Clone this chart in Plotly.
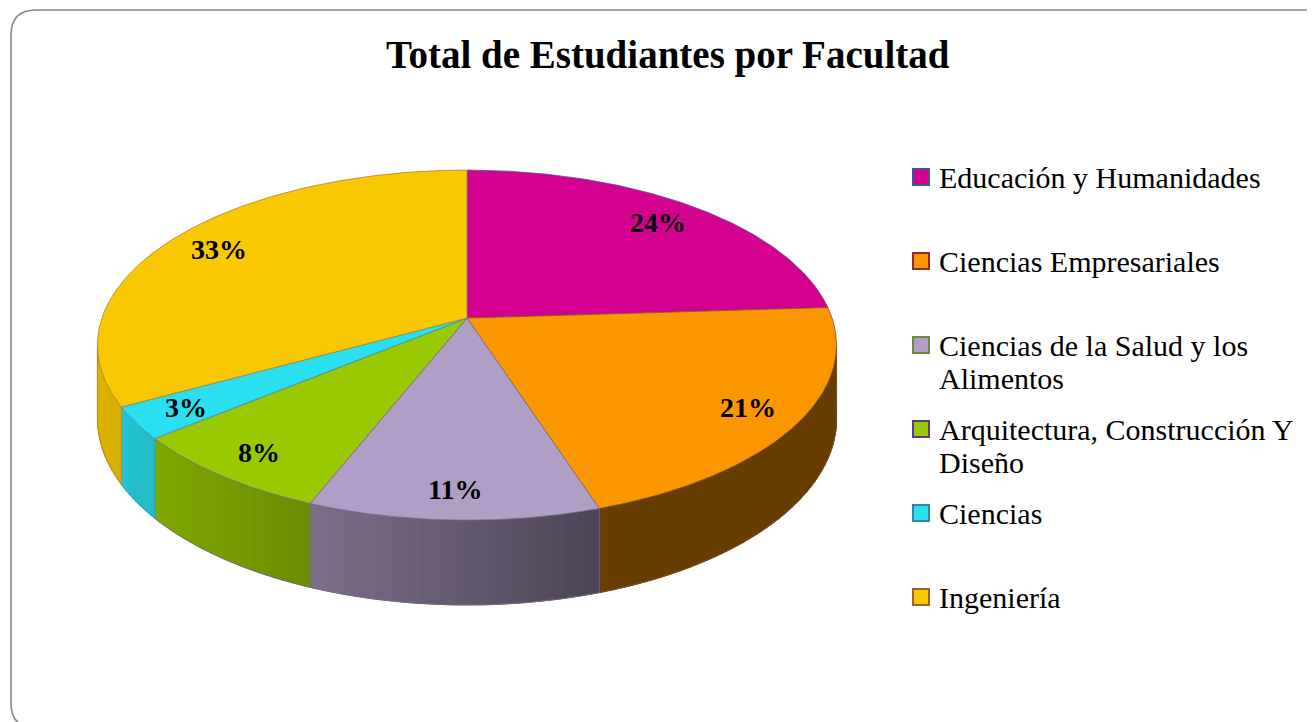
import textwrap
import numpy as np
import plotly.graph_objects as go

# ---------------- data ----------------
categories = [
    "Educación y Humanidades",
    "Ciencias Empresariales",
    "Ciencias de la Salud y los Alimentos",
    "Arquitectura, Construcción Y Diseño",
    "Ciencias",
    "Ingeniería",
]
values = [24, 21, 11, 8, 3, 33]
title_text = "Total de Estudiantes por Facultad"

# ---------------- style ----------------
top_colors = ["#D4008F", "#F99600", "#B19EC6", "#99C900", "#29DFF0", "#F9C800"]
edge_colors = ["#4F5B93", "#8E4B2A", "#76698A", "#6E6A86", "#3A98A8", "#A8823A"]
legend_borders = ["#3C5A8C", "#8B2E2E", "#6E8B3D", "#5E3C82", "#2E8B9A", "#A0602E"]
FONT = "Liberation Serif"

W, H = 1315, 722
PAGE_OFF = 8  # page body margin: axis ranges chosen so data units == page pixels
# perspective projection of the pie disc (pixel space)
CX, YH, A_TOP, A_BOT, BX, DD = 467.0, -789.0, 7174.0, 7639.0, 2366.0, 6.48
LABEL_T = 0.85  # label position: fraction from apex to projected rim


def proj(phi, r, a):
    x = r * np.sin(phi)
    z = r * np.cos(phi)
    return CX + BX * x / (DD + z), YH + a / (DD + z)


def hex_rgb(h):
    h = h.lstrip("#")
    return tuple(int(h[i:i + 2], 16) for i in (0, 2, 4))


def shade(hexcol, f):
    r, g, b = hex_rgb(hexcol)
    return "rgb(%d,%d,%d)" % (round(r * f), round(g * f), round(b * f))


def side_factor(phi_deg):
    if phi_deg < 160:
        return 0.41
    t = min(1.0, (phi_deg - 160) / 101.0)
    return 0.41 + 0.48 * np.sin(np.pi / 2 * t)


total = float(sum(values))
fracs = [v / total for v in values]
starts = np.cumsum([0] + fracs[:-1]) * 2 * np.pi
ends = np.cumsum(fracs) * 2 * np.pi

fig = go.Figure()

# visible side range
phi1 = np.arccos(-1.0 / DD)
phi2 = 2 * np.pi - phi1

# ---- side walls ----
for i in range(len(values)):
    s = max(starts[i], phi1)
    e = min(ends[i], phi2)
    if e <= s:
        continue
    n = max(2, int(np.degrees(e - s) / 1.0) + 1)
    grid = np.linspace(s, e, n)
    for k in range(n - 1):
        a0, a1 = grid[k], grid[k + 1]
        xs0, yt0 = proj(a0, 1, A_TOP)
        xs1, yt1 = proj(a1, 1, A_TOP)
        _, yb0 = proj(a0, 1, A_BOT)
        _, yb1 = proj(a1, 1, A_BOT)
        col = shade(top_colors[i], side_factor(np.degrees((a0 + a1) / 2)))
        fig.add_trace(go.Scatter(
            x=[xs0, xs1, xs1, xs0, xs0], y=[yt0, yt1, yb1, yb0, yt0],
            mode="lines", fill="toself", fillcolor=col,
            line=dict(color=col, width=1), hoverinfo="skip", showlegend=False))
    # outline of side
    arc = np.linspace(s, e, 80)
    bx, by = proj(arc, 1, A_BOT)
    tx0, ty0 = proj(s, 1, A_TOP)
    tx1, ty1 = proj(e, 1, A_TOP)
    fig.add_trace(go.Scatter(
        x=[tx0] + list(bx) + [tx1], y=[ty0] + list(by) + [ty1],
        mode="lines", line=dict(color=edge_colors[i], width=0.8),
        hoverinfo="skip", showlegend=False))

# ---- top faces ----
cx0, cy0 = proj(0.0, 0, A_TOP)
for i in range(len(values)):
    arc = np.linspace(starts[i], ends[i], 200)
    ax_, ay_ = proj(arc, 1, A_TOP)
    fig.add_trace(go.Scatter(
        x=[cx0] + list(ax_) + [cx0], y=[cy0] + list(ay_) + [cy0],
        mode="lines", fill="toself", fillcolor=top_colors[i],
        line=dict(color=edge_colors[i], width=0.8),
        hoverinfo="skip", showlegend=False, name=categories[i]))

# ---- percentage labels ----
for i in range(len(values)):
    mid = (starts[i] + ends[i]) / 2
    ex, ey = proj(mid, 1, A_TOP)
    lx = cx0 + LABEL_T * (ex - cx0)
    ly = cy0 + LABEL_T * (ey - cy0)
    fig.add_annotation(x=lx, y=ly, text="<b>%d%%</b>" % round(fracs[i] * 100),
                       showarrow=False, xanchor="center", yanchor="middle",
                       font=dict(family=FONT, size=28, color="black"))

# ---- legend (manual) ----
LEG_X_BOX, LEG_BOX = 913, 16
LEG_X_TEXT = 937
LEG_Y0, LEG_STEP, LEG_LINE = 177, 84, 33
for i, name in enumerate(categories):
    yc = LEG_Y0 + i * LEG_STEP
    fig.add_shape(type="rect", xref="x", yref="y",
                  x0=LEG_X_BOX, x1=LEG_X_BOX + LEG_BOX,
                  y0=yc - LEG_BOX / 2, y1=yc + LEG_BOX / 2,
                  fillcolor=top_colors[i], line=dict(color=legend_borders[i], width=2))
    for j, line in enumerate(textwrap.wrap(name, 28)):
        fig.add_annotation(x=LEG_X_TEXT, y=yc + j * LEG_LINE, text=line,
                           showarrow=False, xanchor="left", yanchor="middle",
                           font=dict(family=FONT, size=30, color="black"))

# ---- title ----
fig.add_annotation(x=668, y=55, text="<b>%s</b>" % title_text, showarrow=False,
                   xanchor="center", yanchor="middle",
                   font=dict(family=FONT, size=39, color="black"))

# ---- chart frame (rounded rectangle) ----
fx0, fy0, fx1, fy1, rr = 11, 10, 1345, 728, 25
path = (f"M {fx0+rr},{fy0} L {fx1-rr},{fy0} Q {fx1},{fy0} {fx1},{fy0+rr} "
        f"L {fx1},{fy1-rr} Q {fx1},{fy1} {fx1-rr},{fy1} L {fx0+rr},{fy1} "
        f"Q {fx0},{fy1} {fx0},{fy1-rr} L {fx0},{fy0+rr} Q {fx0},{fy0} {fx0+rr},{fy0} Z")
fig.add_shape(type="path", path=path, xref="x", yref="y",
              line=dict(color="#878787", width=1.6), layer="below")

fig.update_layout(
    width=W, height=H,
    margin=dict(l=0, r=0, t=0, b=0),
    paper_bgcolor="white", plot_bgcolor="white",
    showlegend=False,
    xaxis=dict(range=[PAGE_OFF, PAGE_OFF + W], visible=False, fixedrange=True),
    yaxis=dict(range=[PAGE_OFF + H, PAGE_OFF], visible=False, fixedrange=True),
)

fig.write_html("out.html")
